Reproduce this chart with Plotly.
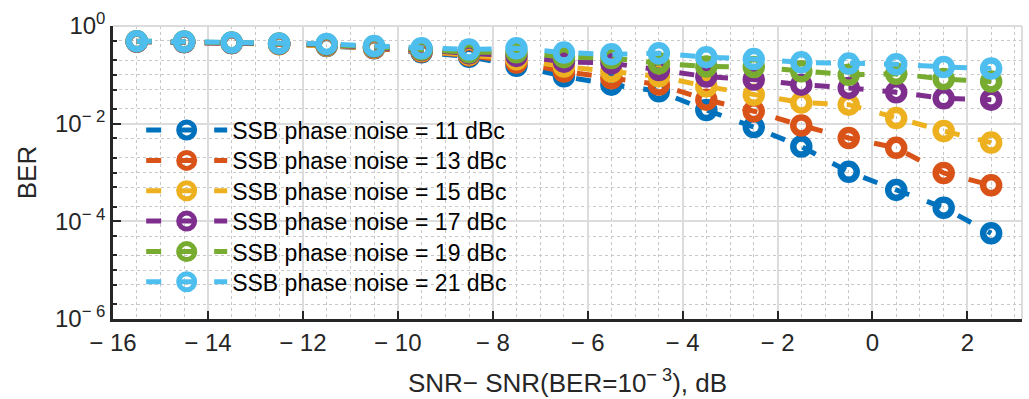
import plotly.graph_objects as go

snr_offset = [-15.5, -14.5, -13.5, -12.5, -11.5, -10.5, -9.5, -8.5, -7.5, -6.5,
              -5.5, -4.5, -3.5, -2.5, -1.5, -0.5, 0.5, 1.5, 2.5]

ber_11 = [0.48, 0.47, 0.45, 0.43, 0.39, 0.35, 0.29, 0.235, 0.153, 0.093,
          0.063, 0.046, 0.019, 0.0085, 0.0034, 0.00103, 0.00044, 0.00019, 0.000057]
ber_13 = [0.48, 0.47, 0.45, 0.43, 0.40, 0.355, 0.30, 0.25, 0.178, 0.117,
          0.085, 0.063, 0.031, 0.018, 0.0092, 0.0051, 0.0032, 0.00098, 0.00055]
ber_15 = [0.48, 0.47, 0.445, 0.42, 0.40, 0.36, 0.31, 0.26, 0.209, 0.148,
          0.117, 0.093, 0.058, 0.039, 0.027, 0.0245, 0.013, 0.0071, 0.0041]
ber_17 = [0.48, 0.47, 0.45, 0.43, 0.41, 0.37, 0.32, 0.275, 0.244, 0.186,
          0.173, 0.126, 0.092, 0.08, 0.063, 0.054, 0.044, 0.033, 0.031]
ber_19 = [0.49, 0.48, 0.46, 0.44, 0.42, 0.38, 0.33, 0.29, 0.29, 0.23,
          0.22, 0.173, 0.148, 0.145, 0.118, 0.1, 0.105, 0.082, 0.073]
ber_21 = [0.49, 0.48, 0.46, 0.44, 0.43, 0.39, 0.35, 0.33, 0.35, 0.285,
          0.264, 0.277, 0.23, 0.21, 0.18, 0.17, 0.165, 0.145, 0.135]

series_names = ["SSB phase noise = 11 dBc", "SSB phase noise = 13 dBc",
                "SSB phase noise = 15 dBc", "SSB phase noise = 17 dBc",
                "SSB phase noise = 19 dBc", "SSB phase noise = 21 dBc"]
series_values = [ber_11, ber_13, ber_15, ber_17, ber_19, ber_21]
colors = ["#0072BD", "#D95319", "#EDB120", "#7E2F8E", "#77AC30", "#4DBEEE"]

x_tickvals = [-16, -14, -12, -10, -8, -6, -4, -2, 0, 2]
x_ticktext = ["\u2212 16", "\u2212 14", "\u2212 12", "\u2212 10", "\u2212 8",
              "\u2212 6", "\u2212 4", "\u2212 2", "0", "2"]
y_tickvals = [1, 1e-2, 1e-4, 1e-6]
y_ticktext = ["10<sup>0</sup>", "10<sup>\u2212 2</sup>", "10<sup>\u2212 4</sup>",
              "10<sup>\u2212 6</sup>"]

FONT = "Liberation Sans, Arial, Helvetica, sans-serif"
TXT = "#262626"

# legend row centres (paper coords), one legend box per series
legend_rows = [0.645, 0.541, 0.4375, 0.334, 0.230, 0.127]

fig = go.Figure()
legend_layout = {}
for i, (name, vals, c) in enumerate(zip(series_names, series_values, colors)):
    lname = "legend" if i == 0 else f"legend{i + 1}"
    fig.add_trace(go.Scatter(
        x=snr_offset, y=vals, name=name, mode="lines+markers",
        line=dict(color=c, width=5, dash="15px,19px"),
        marker=dict(symbol="circle-open", size=16, color=c,
                    line=dict(color=c, width=6.5)),
        legend=lname,
    ))
    legend_layout[lname] = dict(
        x=0.031, y=legend_rows[i], xanchor="left", yanchor="middle",
        bgcolor="rgba(0,0,0,0)", itemwidth=81,
        font=dict(family=FONT, size=23, color="#000000"),
    )

fig.update_layout(
    width=1029, height=399,
    margin=dict(l=113, r=7, t=26, b=80),
    paper_bgcolor="white", plot_bgcolor="white",
    font=dict(family=FONT, size=24, color=TXT),
    showlegend=True,
    **legend_layout,
)

fig.update_xaxes(
    range=[-16, 3.15], tickvals=x_tickvals, ticktext=x_ticktext,
    ticks="inside", ticklen=8, tickwidth=2, tickcolor=TXT,
    showline=True, linecolor=TXT, linewidth=2.5, mirror=False,
    showgrid=True, gridcolor="#dcdcdc", gridwidth=1.5,
    minor=dict(dtick=0.5, tick0=0, showgrid=True, gridcolor="#c8c8c8",
               griddash="dot", gridwidth=1),
    zeroline=False, automargin=False,
    title=dict(text="SNR\u2212 SNR(BER=10<sup>\u2212 3</sup>), dB", standoff=20,
               font=dict(family=FONT, size=26, color=TXT)),
    tickfont=dict(family=FONT, size=24, color=TXT),
)
fig.update_yaxes(
    type="log", range=[-6, 0], tickvals=y_tickvals, ticktext=y_ticktext,
    ticks="inside", ticklen=8, tickwidth=2, tickcolor=TXT,
    showline=True, linecolor=TXT, linewidth=2.5, mirror=False,
    showgrid=True, gridcolor="#dcdcdc", gridwidth=1.5,
    minor=dict(ticks="inside", ticklen=4, tickcolor=TXT, tickwidth=1.5,
               showgrid=True, gridcolor="#c8c8c8", griddash="dot", gridwidth=1),
    zeroline=False, automargin=False,
    title=dict(text="BER", standoff=11,
               font=dict(family=FONT, size=26, color=TXT)),
    tickfont=dict(family=FONT, size=24, color=TXT),
)

fig.add_shape(type="line", xref="paper", yref="paper", x0=1, x1=1, y0=0, y1=1,
              line=dict(color="#dcdcdc", width=2))
fig.add_shape(type="line", xref="paper", yref="paper", x0=0, x1=1, y0=1, y1=1,
              line=dict(color="#dcdcdc", width=2))

fig.write_html("out.html", config={"displayModeBar": False},
               post_script="document.body.style.margin='0px';")
